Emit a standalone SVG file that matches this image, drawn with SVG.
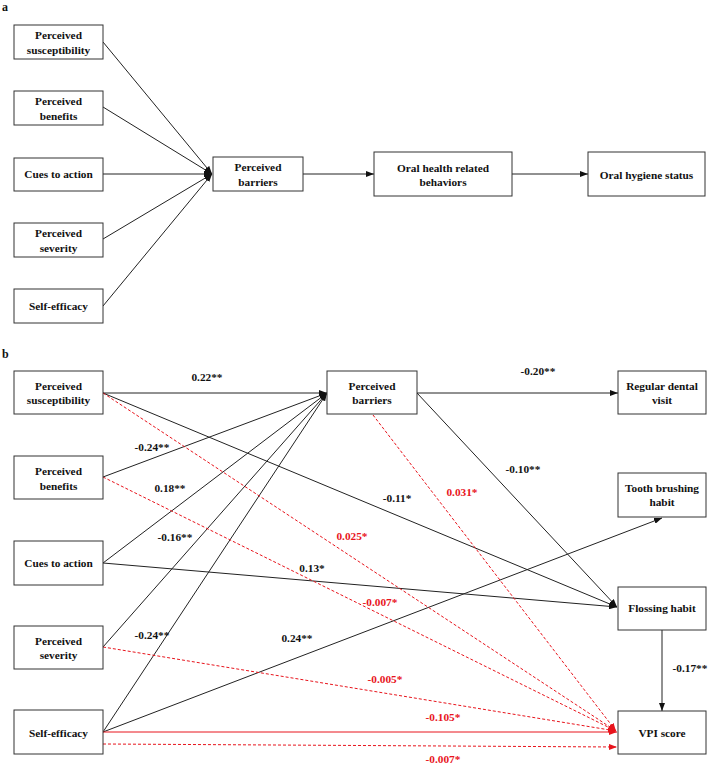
<svg xmlns="http://www.w3.org/2000/svg" width="709" height="764" viewBox="0 0 709 764">
<defs>
<style>
.box{fill:#fff;stroke:#333;stroke-width:1}
.t{font-family:"Liberation Serif","Times New Roman",serif;font-weight:bold;font-size:11.3px;fill:#111;text-anchor:middle}
.lab{font-family:"Liberation Serif","Times New Roman",serif;font-weight:bold;font-size:11.3px;fill:#111;text-anchor:middle}
.rl{fill:#e8141c}
.pl{font-family:"Liberation Serif","Times New Roman",serif;font-weight:bold;font-size:12px;fill:#111}
.k{stroke:#222;stroke-width:1;fill:none}
.r{stroke:#e8141c;stroke-width:1;fill:none}
.rd{stroke:#e8141c;stroke-width:1;fill:none;stroke-dasharray:3,2}
</style>
<marker id="ak" markerUnits="userSpaceOnUse" markerWidth="8" markerHeight="6" refX="8" refY="3" orient="auto"><path d="M0,0 L8,3 L0,6 z" fill="#111"/></marker>
<marker id="ar" markerUnits="userSpaceOnUse" markerWidth="8" markerHeight="6" refX="8" refY="3" orient="auto"><path d="M0,0 L8,3 L0,6 z" fill="#e8141c"/></marker>
</defs>
<rect width="709" height="764" fill="#fff"/>

<text class="pl" x="2" y="11">a</text>
<text class="pl" x="2" y="358">b</text>

<g id="connectors-a">
<line class="k" x1="103" y1="42" x2="212" y2="174" marker-end="url(#ak)"/>
<line class="k" x1="103" y1="107" x2="212" y2="174" marker-end="url(#ak)"/>
<line class="k" x1="103" y1="174" x2="212" y2="174" marker-end="url(#ak)"/>
<line class="k" x1="103" y1="239" x2="212" y2="174" marker-end="url(#ak)"/>
<line class="k" x1="103" y1="306" x2="212" y2="174" marker-end="url(#ak)"/>
<line class="k" x1="303" y1="174" x2="374" y2="174" marker-end="url(#ak)"/>
<line class="k" x1="512" y1="174" x2="588" y2="174" marker-end="url(#ak)"/>
</g>

<g id="a-susceptibility"><rect class="box" x="14" y="25" width="89" height="34"/><text class="t" x="58.5" y="39">Perceived</text><text class="t" x="58.5" y="54">susceptibility</text></g>
<g id="a-benefits"><rect class="box" x="14" y="91" width="89" height="34"/><text class="t" x="58.5" y="105">Perceived</text><text class="t" x="58.5" y="120">benefits</text></g>
<g id="a-cues"><rect class="box" x="14" y="158" width="89" height="33"/><text class="t" x="58.5" y="178">Cues to action</text></g>
<g id="a-severity"><rect class="box" x="14" y="223" width="89" height="34"/><text class="t" x="58.5" y="237">Perceived</text><text class="t" x="58.5" y="252">severity</text></g>
<g id="a-selfefficacy"><rect class="box" x="14" y="289" width="89" height="34"/><text class="t" x="58.5" y="310">Self-efficacy</text></g>
<g id="a-barriers"><rect class="box" x="213" y="157" width="90" height="34"/><text class="t" x="258" y="170.5">Perceived</text><text class="t" x="258" y="185.5">barriers</text></g>
<g id="a-behaviors"><rect class="box" x="374" y="152" width="138" height="44"/><text class="t" x="443" y="171.5">Oral health related</text><text class="t" x="443" y="185.5">behaviors</text></g>
<g id="a-hygiene"><rect class="box" x="588" y="152" width="117" height="44"/><text class="t" x="646.5" y="178.5">Oral hygiene status</text></g>

<g id="connectors-b">
<line class="k" x1="103" y1="393" x2="327" y2="393" marker-end="url(#ak)"/>
<line class="k" x1="103" y1="477" x2="327" y2="393" marker-end="url(#ak)"/>
<line class="k" x1="103" y1="563" x2="327" y2="393" marker-end="url(#ak)"/>
<line class="k" x1="103" y1="647" x2="327" y2="393" marker-end="url(#ak)"/>
<line class="k" x1="103" y1="732" x2="327" y2="393" marker-end="url(#ak)"/>
<line class="k" x1="103" y1="393" x2="617" y2="607" marker-end="url(#ak)"/>
<line class="k" x1="103" y1="563" x2="617" y2="607" marker-end="url(#ak)"/>
<line class="k" x1="417" y1="393" x2="618" y2="393" marker-end="url(#ak)"/>
<line class="k" x1="417" y1="393" x2="617" y2="607" marker-end="url(#ak)"/>
<line class="k" x1="103" y1="732" x2="662" y2="518" marker-end="url(#ak)"/>
<line class="k" x1="662" y1="630" x2="662" y2="711" marker-end="url(#ak)"/>
<line class="rd" x1="103" y1="393" x2="616" y2="731" marker-end="url(#ar)"/>
<line class="rd" x1="103" y1="477" x2="616" y2="731" marker-end="url(#ar)"/>
<line class="rd" x1="373" y1="415" x2="616" y2="731" marker-end="url(#ar)"/>
<line class="rd" x1="103" y1="647" x2="616" y2="731" marker-end="url(#ar)"/>
<line class="r" x1="103" y1="732" x2="617" y2="732" marker-end="url(#ar)"/>
<line class="rd" x1="103" y1="744" x2="617" y2="747" marker-end="url(#ar)"/>
</g>

<g id="labels-b">
<text class="lab" x="207" y="381">0.22**</text>
<text class="lab" x="152" y="451">-0.24**</text>
<text class="lab" x="170" y="492">0.18**</text>
<text class="lab" x="175" y="541">-0.16**</text>
<text class="lab" x="152" y="639">-0.24**</text>
<text class="lab" x="397" y="502">-0.11*</text>
<text class="lab" x="312" y="572">0.13*</text>
<text class="lab" x="538" y="375">-0.20**</text>
<text class="lab" x="523" y="473">-0.10**</text>
<text class="lab" x="297" y="642">0.24**</text>
<text class="lab" x="690" y="672">-0.17**</text>
<text class="lab rl" x="352" y="540">0.025*</text>
<text class="lab rl" x="380" y="606">-0.007*</text>
<text class="lab rl" x="462" y="496">0.031*</text>
<text class="lab rl" x="385" y="683">-0.005*</text>
<text class="lab rl" x="443" y="721">-0.105*</text>
<text class="lab rl" x="443" y="763">-0.007*</text>
</g>

<g id="b-susceptibility"><rect class="box" x="14" y="371" width="89" height="43"/><text class="t" x="58.5" y="389.5">Perceived</text><text class="t" x="58.5" y="403.5">susceptibility</text></g>
<g id="b-benefits"><rect class="box" x="14" y="456" width="89" height="43"/><text class="t" x="58.5" y="474.5">Perceived</text><text class="t" x="58.5" y="489.5">benefits</text></g>
<g id="b-cues"><rect class="box" x="14" y="541" width="89" height="44"/><text class="t" x="58.5" y="567">Cues to action</text></g>
<g id="b-severity"><rect class="box" x="14" y="626" width="89" height="43"/><text class="t" x="58.5" y="644.5">Perceived</text><text class="t" x="58.5" y="658.5">severity</text></g>
<g id="b-selfefficacy"><rect class="box" x="14" y="710" width="89" height="44"/><text class="t" x="58.5" y="736.5">Self-efficacy</text></g>
<g id="b-barriers"><rect class="box" x="327" y="371" width="90" height="43"/><text class="t" x="372" y="389.5">Perceived</text><text class="t" x="372" y="403.5">barriers</text></g>
<g id="b-dental"><rect class="box" x="618" y="371" width="88" height="43"/><text class="t" x="662" y="389.5">Regular dental</text><text class="t" x="662" y="403.5">visit</text></g>
<g id="b-brushing"><rect class="box" x="618" y="473" width="88" height="44"/><text class="t" x="662" y="491.5">Tooth brushing</text><text class="t" x="662" y="505.5">habit</text></g>
<g id="b-flossing"><rect class="box" x="618" y="587" width="88" height="43"/><text class="t" x="662" y="612">Flossing habit</text></g>
<g id="b-vpi"><rect class="box" x="618" y="711" width="88" height="43"/><text class="t" x="662" y="736.5">VPI score</text></g>
</svg>
